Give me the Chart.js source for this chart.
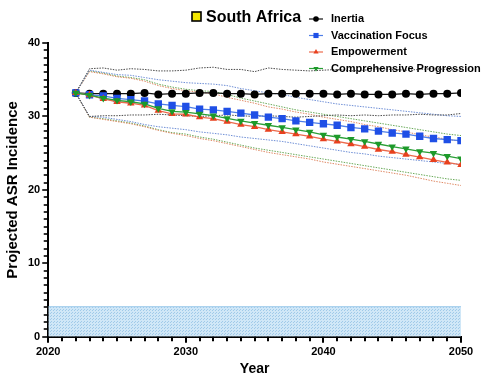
<!DOCTYPE html>
<html>
<head>
<meta charset="utf-8">
<script src="https://cdn.jsdelivr.net/npm/chart.js@4.4.1/dist/chart.umd.min.js"></script>
<style>
  html, body { margin: 0; padding: 0; background: #fff; }
  #wrap { position: relative; width: 483px; height: 376px; }
</style>
</head>
<body>
<div id="wrap"><canvas id="c" width="483" height="376"></canvas></div>
<script>
// Projection years
const years = [2022, 2023, 2024, 2025, 2026, 2027, 2028, 2029, 2030, 2031, 2032, 2033, 2034, 2035, 2036,
               2037, 2038, 2039, 2040, 2041, 2042, 2043, 2044, 2045, 2046, 2047, 2048, 2049, 2050];

// Scenario means
const inertia = [33.2, 33.1, 33.1, 33.1, 33.1, 33.2, 33.0, 33.1, 33.1, 33.2, 33.2, 33.1, 33.1, 33.0, 33.1,
                 33.1, 33.1, 33.1, 33.1, 33.0, 33.1, 33.0, 33.0, 33.0, 33.1, 33.0, 33.1, 33.1, 33.2];
const vaccination = [33.2, 32.95, 32.8, 32.45, 32.3, 32.1, 31.7, 31.5, 31.35, 31.0, 30.9, 30.7, 30.45, 30.2, 29.9,
                     29.7, 29.4, 29.2, 29.0, 28.8, 28.5, 28.3, 28.0, 27.75, 27.6, 27.3, 27.0, 26.85, 26.7];
const empowerment = [33.2, 32.9, 32.4, 32.0, 31.8, 31.5, 30.8, 30.35, 30.3, 29.9, 29.7, 29.3, 28.9, 28.6, 28.2,
                     27.9, 27.6, 27.3, 26.9, 26.6, 26.25, 25.9, 25.5, 25.2, 24.8, 24.45, 24.1, 23.75, 23.4];
const comprehensive = [33.2, 32.9, 32.5, 32.2, 32.0, 31.7, 31.1, 30.7, 30.6, 30.35, 30.1, 29.75, 29.4, 29.1, 28.8,
                       28.5, 28.2, 27.9, 27.5, 27.2, 26.9, 26.6, 26.25, 25.9, 25.6, 25.25, 25.0, 24.6, 24.25];

// Uncertainty bounds
const inertiaUpper = [33.2, 36.5, 36.6, 36.3, 36.5, 36.4, 36.2, 36.2, 36.3, 36.6, 36.7, 36.4, 36.4, 36.1, 36.6,
                      36.4, 36.3, 36.2, 36.3, 36.4, 36.2, 36.3, 36.5, 36.4, 36.3, 36.4, 36.5, 36.4, 36.4];
const inertiaLower = [33.2, 30.0, 30.1, 30.1, 30.2, 30.2, 30.3, 30.2, 30.1, 30.0, 30.1, 30.2, 30.1, 30.0, 30.1,
                      30.0, 29.9, 30.0, 30.1, 30.2, 30.1, 30.2, 30.1, 30.2, 30.2, 30.3, 30.2, 30.2, 30.4];
const vaccinationUpper = [33.2, 36.3, 36.0, 35.7, 35.6, 35.3, 35.0, 34.8, 34.6, 34.5, 34.4, 34.2, 33.8, 33.5, 33.2,
                          33.0, 32.6, 32.3, 32.0, 31.7, 31.5, 31.3, 31.1, 30.9, 30.7, 30.5, 30.3, 30.1, 30.0];
const vaccinationLower = [33.2, 30.0, 29.9, 29.6, 29.3, 28.9, 28.6, 28.4, 28.2, 27.9, 27.7, 27.5, 27.2, 27.0, 26.8,
                          26.6, 26.3, 26.0, 25.7, 25.4, 25.1, 24.9, 24.6, 24.4, 24.2, 24.0, 23.8, 23.6, 23.5];
const empowermentUpper = [33.2, 36.1, 35.8, 35.4, 35.2, 34.8, 34.2, 33.8, 33.5, 33.3, 33.1, 32.6, 32.2, 31.8, 31.3,
                          31.0, 30.6, 30.3, 29.9, 29.6, 29.3, 28.9, 28.6, 28.2, 27.9, 27.5, 27.2, 26.9, 26.6];
const empowermentLower = [33.2, 29.9, 29.6, 29.3, 29.0, 28.6, 28.1, 27.7, 27.4, 27.0, 26.7, 26.3, 25.9, 25.5, 25.1,
                          24.8, 24.5, 24.2, 23.8, 23.5, 23.2, 22.9, 22.6, 22.3, 22.0, 21.6, 21.2, 20.9, 20.6];
const comprehensiveUpper = [33.2, 36.2, 35.9, 35.5, 35.3, 35.0, 34.4, 34.0, 33.7, 33.5, 33.4, 33.0, 32.5, 32.1, 31.7,
                            31.3, 30.9, 30.6, 30.3, 30.0, 29.7, 29.4, 29.1, 28.8, 28.5, 28.2, 27.9, 27.6, 27.4];
const comprehensiveLower = [33.2, 29.9, 29.7, 29.4, 29.1, 28.7, 28.2, 27.8, 27.6, 27.2, 26.9, 26.5, 26.1, 25.7, 25.4,
                            25.1, 24.8, 24.5, 24.2, 23.9, 23.6, 23.3, 23.0, 22.7, 22.4, 22.1, 21.8, 21.5, 21.3];

// Shaded reference band (0 up to threshold) across the full year range
const bandYears = [2020, 2050];
const bandLevel = [4.1, 4.1];

const country = 'South Africa';
const seriesNames = ['Inertia', 'Vaccination Focus', 'Empowerment', 'Comprehensive Progression'];

const FONT = "'Liberation Sans', Arial, Helvetica, sans-serif";

function pts(xs, ys) { return xs.map((x, i) => ({ x: x, y: ys[i] })); }

// dotted texture for the band
function bandPattern() {
  const p = document.createElement('canvas');
  p.width = 3; p.height = 3;
  const g = p.getContext('2d');
  g.fillStyle = 'rgb(208,231,247)';
  g.fillRect(0, 0, 3, 3);
  g.fillStyle = 'rgb(160,202,233)';
  g.fillRect(0, 0, 1, 1);
  g.fillRect(2, 1, 1, 1);
  return g.createPattern(p, 'repeat');
}

const styles = [
  { name: seriesNames[0], color: '#000000', line: '#111111', bound: '#4a4a4a', pointStyle: 'circle', radius: 4, rotation: 0 },
  { name: seriesNames[1], color: '#1f4fe6', line: '#4f7fe8', bound: '#6f8fd6', pointStyle: 'rect', radius: 5.2, rotation: 0 },
  { name: seriesNames[2], color: '#e8401e', line: '#ec6a4c', bound: '#df8a66', pointStyle: 'triangle', radius: 4.3, rotation: 0 },
  { name: seriesNames[3], color: '#1d9a2a', line: '#2a9f36', bound: '#6aaa5a', pointStyle: 'triangle', radius: 4.3, rotation: 180 }
];
const means = [inertia, vaccination, empowerment, comprehensive];
const uppers = [inertiaUpper, vaccinationUpper, empowermentUpper, comprehensiveUpper];
const lowers = [inertiaLower, vaccinationLower, empowermentLower, comprehensiveLower];

const datasets = [];
// mean series with markers (drawn on top)
styles.forEach((s, i) => {
  datasets.push({
    label: s.name,
    data: pts(years, means[i]),
    borderColor: s.line,
    borderWidth: 1.3,
    backgroundColor: s.color,
    pointBackgroundColor: s.color,
    pointBorderColor: s.color,
    pointBorderWidth: 0,
    pointStyle: s.pointStyle,
    pointRadius: s.radius,
    pointRotation: s.rotation,
    fill: false,
    order: 10 - i
  });
});
// dotted bounds
styles.forEach((s, i) => {
  [uppers[i], lowers[i]].forEach((arr, k) => {
    datasets.push({
      label: s.name + (k === 0 ? ' upper' : ' lower'),
      data: pts(years, arr),
      borderColor: s.bound,
      borderWidth: 1,
      borderDash: [1.5, 1.2],
      pointRadius: 0,
      fill: false,
      order: 20 + i
    });
  });
});
datasets.push({
  label: 'band',
  data: pts(bandYears, bandLevel),
  borderColor: 'rgba(150,198,234,0.9)',
  borderWidth: 1,
  backgroundColor: bandPattern(),
  pointRadius: 0,
  fill: 'origin',
  order: 50
});

// Axis tick marks: long at labelled values, short in between
const tickMarks = {
  id: 'tickMarks',
  afterDraw(chart) {
    const ctx = chart.ctx;
    const xs = chart.scales.x, ys = chart.scales.y;
    const area = chart.chartArea;
    ctx.save();
    ctx.strokeStyle = '#000';
    ctx.lineCap = 'butt';
    xs.ticks.forEach(t => {
      const px = Math.round(xs.getPixelForValue(t.value));
      const major = t.value % 10 === 0;
      ctx.lineWidth = 2;
      ctx.beginPath();
      ctx.moveTo(px, area.bottom);
      ctx.lineTo(px, area.bottom + (major ? 6 : 4.5));
      ctx.stroke();
    });
    ys.ticks.forEach(t => {
      const py = Math.round(ys.getPixelForValue(t.value));
      const major = t.value % 10 === 0;
      ctx.lineWidth = 1.6;
      ctx.beginPath();
      ctx.moveTo(area.left, py);
      ctx.lineTo(area.left - (major ? 6 : 4.5), py);
      ctx.stroke();
    });
    ctx.restore();
  }
};

// Heading with country swatch, and the scenario key
const headingAndKey = {
  id: 'headingAndKey',
  afterDraw(chart) {
    const ctx = chart.ctx;
    ctx.save();
    // swatch
    ctx.fillStyle = '#f2e600';
    ctx.fillRect(192, 12, 9, 9);
    ctx.strokeStyle = '#000';
    ctx.lineWidth = 1.6;
    ctx.strokeRect(192, 12, 9, 9);
    // heading
    ctx.fillStyle = '#000';
    ctx.font = 'bold 16px ' + FONT;
    ctx.textBaseline = 'middle';
    ctx.textAlign = 'left';
    ctx.fillText(country, 206, 17.5);
    // key
    const rowY = [19, 35.5, 52, 68.5];
    ctx.font = 'bold 11px ' + FONT;
    styles.forEach((s, i) => {
      const y = rowY[i];
      ctx.strokeStyle = s.line;
      ctx.lineWidth = 1.2;
      ctx.beginPath();
      ctx.moveTo(309, y);
      ctx.lineTo(323, y);
      ctx.stroke();
      ctx.fillStyle = s.color;
      ctx.strokeStyle = s.color;
      Chart.helpers.drawPoint(ctx, {
        pointStyle: s.pointStyle,
        radius: s.radius * 0.7,
        rotation: s.rotation,
        borderWidth: 0
      }, 316, y);
      ctx.fillStyle = '#000';
      ctx.fillText(s.name, 331, y);
    });
    ctx.restore();
  }
};

new Chart(document.getElementById('c'), {
  type: 'line',
  data: { datasets: datasets },
  options: {
    responsive: false,
    animation: false,
    devicePixelRatio: 1,
    layout: { padding: { top: 43, right: 22, left: 2, bottom: 0 } },
    plugins: {
      legend: { display: false },
      tooltip: { enabled: false },
      title: { display: false }
    },
    elements: { line: { tension: 0 } },
    scales: {
      x: {
        type: 'linear',
        min: 2020,
        max: 2050,
        border: { display: true, color: '#000', width: 2 },
        grid: { display: true, drawOnChartArea: false, drawTicks: true, tickLength: 6, tickColor: 'rgba(0,0,0,0)' },
        ticks: {
          stepSize: 1,
          autoSkip: false,
          maxRotation: 0,
          padding: 3,
          color: '#000',
          font: { family: FONT, size: 11, weight: 'bold' },
          callback: v => (v % 10 === 0 ? String(v) : '')
        },
        title: {
          display: true,
          text: 'Year',
          color: '#000',
          font: { family: FONT, size: 14, weight: 'bold', lineHeight: 1.0 },
          padding: { top: 0, bottom: 0 }
        }
      },
      y: {
        min: 0,
        max: 40,
        border: { display: true, color: '#000', width: 2 },
        grid: { display: true, drawOnChartArea: false, drawTicks: true, tickLength: 6, tickColor: 'rgba(0,0,0,0)' },
        ticks: {
          stepSize: 1,
          autoSkip: false,
          padding: 2,
          color: '#000',
          font: { family: FONT, size: 11, weight: 'bold' },
          callback: v => (v % 10 === 0 ? String(v) : '')
        },
        title: {
          display: true,
          text: 'Projected ASR Incidence',
          color: '#000',
          font: { family: FONT, size: 15, weight: 'bold' },
          padding: { top: 2, bottom: 4 }
        }
      }
    }
  },
  plugins: [tickMarks, headingAndKey]
});
</script>
</body>
</html>
